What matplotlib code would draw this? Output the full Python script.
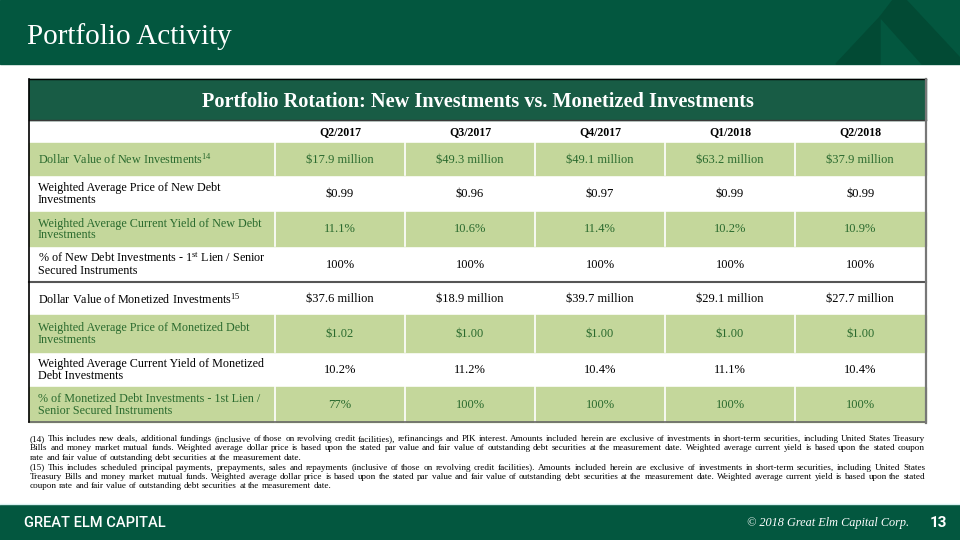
import matplotlib
matplotlib.use('Agg')
import matplotlib.pyplot as plt
from matplotlib.patches import Rectangle, Polygon
from matplotlib.font_manager import FontProperties

# table data
quarters = ['Q2/2017', 'Q3/2017', 'Q4/2017', 'Q1/2018', 'Q2/2018']
new_value = [17.9, 49.3, 49.1, 63.2, 37.9]          # $ million
new_price = [0.99, 0.96, 0.97, 0.99, 0.99]
new_yield = [11.1, 10.6, 11.4, 10.2, 10.9]          # %
new_first_lien = [100, 100, 100, 100, 100]          # %
mon_value = [37.6, 18.9, 39.7, 29.1, 27.7]
mon_price = [1.02, 1.00, 1.00, 1.00, 1.00]
mon_yield = [10.2, 11.2, 10.4, 11.1, 10.4]
mon_first_lien = [77, 100, 100, 100, 100]

row_labels = ['Dollar Value of New Investments$^{\\mathrm{14}}$',
              'Weighted Average Price of New Debt\nInvestments',
              'Weighted Average Current Yield of New Debt\nInvestments',
              '% of New Debt Investments - 1$^{\\mathrm{st}}$ Lien / Senior\nSecured Instruments',
              'Dollar Value of Monetized Investments$^{\\mathrm{15}}$',
              'Weighted Average Price of Monetized Debt\nInvestments',
              'Weighted Average Current Yield of Monetized\nDebt Investments',
              '% of Monetized Debt Investments - 1st Lien /\nSenior Secured Instruments']

footnotes = [
    ('(14) This includes new deals, additional fundings (inclusive of those on revolving credit facilities), refinancings and PIK interest. Amounts included herein are exclusive of investments in short-term securities, including United States Treasury', False),
    ('Bills and money market mutual funds. Weighted average dollar price is based upon the stated par value and fair value of outstanding debt securities at the measurement date. Weighted average current yield is based upon the stated coupon', False),
    ('rate and fair value of outstanding debt securities at the measurement date.', True),
    ('(15) This includes scheduled principal payments, prepayments, sales and repayments (inclusive of those on revolving credit facilities). Amounts included herein are exclusive of investments in short-term securities, including United States', False),
    ('Treasury Bills and money market mutual funds. Weighted average dollar price is based upon the stated par value and fair value of outstanding debt securities at the measurement date. Weighted average current yield is based upon the stated', False),
    ('coupon rate and fair value of outstanding debt securities at the measurement date.', True),
]

plt.rcParams['font.family'] = ['Liberation Serif', 'DejaVu Serif']
plt.rcParams['mathtext.fontset'] = 'custom'
plt.rcParams['mathtext.rm'] = 'Liberation Serif'
plt.rcParams['mathtext.it'] = 'Liberation Serif:italic'
plt.rcParams['mathtext.bf'] = 'Liberation Serif:bold'

dark = '#03573f'
title_green = '#185c45'
light_green = '#c4d79b'
text_green = '#2a6a2e'

fig = plt.figure(figsize=(9.6, 5.4), dpi=100)
ax = fig.add_axes([0, 0, 1, 1])
ax.set_xlim(0, 960)
ax.set_ylim(540, 0)
ax.axis('off')

# header band + logo
ax.add_patch(Rectangle((0, 0), 960, 64, color=dark, zorder=1))
ax.add_patch(Polygon([(836, 64), (880, 17), (880, 64)], color='#024a34', zorder=2))
ax.add_patch(Polygon([(880, 17), (893, 0), (906, 0), (960, 58), (960, 64), (922, 64)],
                     color='#024a34', zorder=2))
ax.text(27, 37, 'Portfolio Activity', color='white', fontsize=21, va='center', ha='left')

# footer band
ax.add_patch(Rectangle((0, 505), 960, 35, color=dark, zorder=1))
ax.plot([0, 960], [504, 504], color='#d8f0f0', lw=1)
ax.text(24, 523, 'GREAT ELM CAPITAL', color='white', fontsize=10.5, fontweight='medium',
        family=['Roboto', 'DejaVu Sans'], va='center', ha='left')
ax.text(909, 523, '\u00a9 2018 Great Elm Capital Corp.', color='white', fontsize=8.8,
        style='italic', va='center', ha='right')
ax.text(938, 523, '13', color='white', fontsize=11, fontweight='bold',
        family=['Roboto', 'DejaVu Sans'], va='center', ha='center')

# table geometry
left, right = 28.5, 925.5
col_edges = [left, 275, 405, 535, 665, 795, right]
row_edges = [119.5, 143, 175, 212, 246, 282, 315, 352, 387, 422]
shaded = [True, False, True, False, False, True, False, True]

ax.add_patch(Rectangle((left, 79), right - left, row_edges[0] - 79, color=title_green, zorder=2))
ax.text(478, 102, 'Portfolio Rotation: New Investments vs. Monetized Investments',
        color='white', fontsize=14.6, fontweight='bold', ha='center', va='center', zorder=3)

for j, q in enumerate(quarters):
    cx = (col_edges[j + 1] + col_edges[j + 2]) / 2
    ax.text(cx, 132, q, fontsize=8.6, fontweight='bold', ha='center', va='center', zorder=3)

rows = [['$%.1f million' % v for v in new_value],
        ['$%.2f' % v for v in new_price],
        ['%.1f%%' % v for v in new_yield],
        ['%d%%' % v for v in new_first_lien],
        ['$%.1f million' % v for v in mon_value],
        ['$%.2f' % v for v in mon_price],
        ['%.1f%%' % v for v in mon_yield],
        ['%d%%' % v for v in mon_first_lien]]

for i, (lab, vals) in enumerate(zip(row_labels, rows)):
    y0, y1 = row_edges[i + 1], row_edges[i + 2]
    cy = (y0 + y1) / 2
    tc = text_green if shaded[i] else 'black'
    if shaded[i]:
        ax.add_patch(Rectangle((left, y0), right - left, y1 - y0, color=light_green, zorder=1))
        for x in col_edges[1:-1]:
            ax.plot([x, x], [y0, y1], color='white', lw=1.2, zorder=2)
    ax.text(38, cy + 0.5, lab, color=tc, fontsize=8.7, ha='left', va='center',
            linespacing=1.0, zorder=3)
    for j, v in enumerate(vals):
        cx = (col_edges[j + 1] + col_edges[j + 2]) / 2
        ax.text(cx, cy + 0.5, v, color=tc, fontsize=9, ha='center', va='center', zorder=3)

# table borders
ax.plot([left, right], [row_edges[0], row_edges[0]], color='#3a3a3a', lw=1.0, zorder=4)
ax.plot([left, right], [282, 282], color='#555555', lw=1.5, zorder=4)
ax.plot([left, right], [422, 422], color='#666666', lw=1.2, zorder=4)
ax.plot([left, left], [79, 422], color='black', lw=1.2, zorder=4)
ax.plot([left, right], [79, 79], color='black', lw=1.0, zorder=4)
ax.plot([right, right], [79, 422.5], color='#777777', lw=1.6, zorder=4)

# footnotes, justified word by word
r = fig.canvas.get_renderer()
x0, x1 = 30, 925
fam = 'Liberation Serif'
fp10 = FontProperties(family=fam, size=10)
w10 = r.get_text_width_height_descent(footnotes[0][0], fp10, ismath=False)[0]
fsize = 10 * (x1 - x0) / w10 * 0.985
fp = FontProperties(family=fam, size=fsize)
def width(s):
    return r.get_text_width_height_descent(s, fp, ismath=False)[0]
space = width('a a') - width('aa')

for k, (line, last) in enumerate(footnotes):
    y = 441 + k * 9.5
    words = line.split(' ')
    ws = [width(w) for w in words]
    gap = space if last else (x1 - x0 - sum(ws)) / (len(words) - 1)
    x = x0
    for w, wd in zip(words, ws):
        ax.text(x, y, w, fontsize=fsize, ha='left', va='baseline', family=fam)
        x += wd + gap

fig.savefig('out.png', dpi=100)
